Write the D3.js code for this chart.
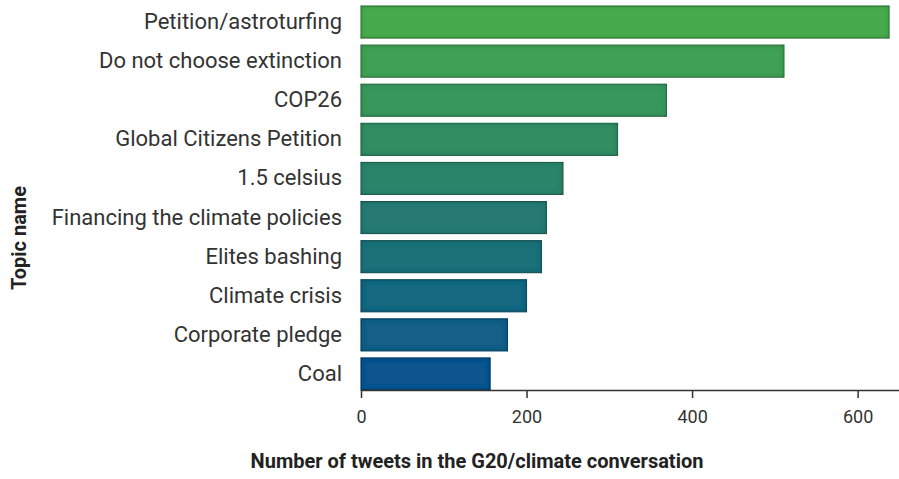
<!DOCTYPE html>
<html>
<head>
<meta charset="utf-8">
<script src="https://cdn.jsdelivr.net/npm/d3@7"></script>
<style>
  html, body { margin: 0; padding: 0; background: #ffffff; }
  svg { display: block; }
</style>
</head>
<body>
<svg id="chart" width="899" height="479"></svg>
<script>
// Topics and their tweet counts in the G20/climate conversation
const topics = [
  "Petition/astroturfing",
  "Do not choose extinction",
  "COP26",
  "Global Citizens Petition",
  "1.5 celsius",
  "Financing the climate policies",
  "Elites bashing",
  "Climate crisis",
  "Corporate pledge",
  "Coal"
];
const tweetCounts = [638, 511, 369, 310, 244, 224, 218, 200, 177, 156];
const xTicks = [0, 200, 400, 600];
const xDomain = [0, 650];

const svg = d3.select("#chart");
const font = "Roboto, 'DejaVu Sans', sans-serif";

const x = d3.scaleLinear().domain(xDomain).range([361, 899]);
const y = d3.scaleBand().domain(topics).range([6, 390]).paddingInner(0.18).paddingOuter(0);

// colour runs from green (top bar) to blue (bottom bar)
const colour = d3.scaleLinear()
  .domain([0, topics.length - 1])
  .range(["#46aa4e", "#0b548f"])
  .interpolate(d3.interpolateRgb);

// inner shadow so each bar has darker edges
const defs = svg.append("defs");
const f = defs.append("filter").attr("id", "innerShade")
  .attr("x", "-5%").attr("y", "-20%").attr("width", "110%").attr("height", "140%");
f.append("feFlood").attr("flood-color", "#000").attr("flood-opacity", 0.5).attr("result", "flood");
f.append("feComposite").attr("in", "flood").attr("in2", "SourceAlpha").attr("operator", "out").attr("result", "outside");
f.append("feGaussianBlur").attr("in", "outside").attr("stdDeviation", 2.4).attr("result", "blur");
f.append("feComposite").attr("in", "blur").attr("in2", "SourceAlpha").attr("operator", "in").attr("result", "shade");
const merge = f.append("feMerge");
merge.append("feMergeNode").attr("in", "SourceGraphic");
merge.append("feMergeNode").attr("in", "shade");

const data = topics.map((t, i) => ({ topic: t, value: tweetCounts[i], i }));

svg.append("g").selectAll("rect")
  .data(data)
  .join("rect")
  .attr("x", x(0))
  .attr("y", d => y(d.topic))
  .attr("width", d => x(d.value) - x(0))
  .attr("height", y.bandwidth())
  .attr("fill", d => colour(d.i))
  .attr("stroke", d => d3.color(colour(d.i)).darker(0.7))
  .attr("stroke-width", 1)
  .attr("filter", "url(#innerShade)");

// category labels
const yAxis = svg.append("g")
  .attr("transform", `translate(${x(0)},0)`)
  .call(d3.axisLeft(y).tickSize(0).tickPadding(19));
yAxis.select(".domain").remove();
yAxis.selectAll("text")
  .attr("font-family", font)
  .attr("font-size", 22)
  .attr("fill", "#333");

// value axis
const xAxis = svg.append("g")
  .attr("transform", `translate(0,${390})`)
  .call(d3.axisBottom(x).tickValues(xTicks).tickSize(8).tickPadding(12).tickSizeOuter(0));
xAxis.select(".domain").attr("stroke", "#333").attr("stroke-width", 1.5);
xAxis.selectAll(".tick line").attr("stroke", "#333").attr("stroke-width", 1.5);
xAxis.selectAll("text")
  .attr("font-family", font)
  .attr("font-size", 18)
  .attr("fill", "#333");

// axis titles
svg.append("text")
  .attr("x", 477)
  .attr("y", 468)
  .attr("text-anchor", "middle")
  .attr("font-family", font)
  .attr("font-weight", "bold")
  .attr("font-size", 20)
  .attr("fill", "#222")
  .text("Number of tweets in the G20/climate conversation");

svg.append("text")
  .attr("transform", "translate(26,238) rotate(-90)")
  .attr("text-anchor", "middle")
  .attr("font-family", font)
  .attr("font-weight", "bold")
  .attr("font-size", 20)
  .attr("fill", "#222")
  .text("Topic name");
</script>
</body>
</html>
